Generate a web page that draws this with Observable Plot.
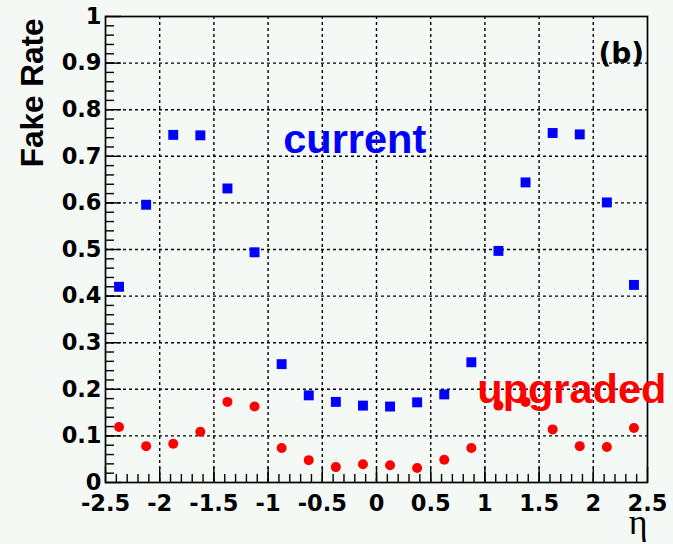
<!DOCTYPE html>
<html><head><meta charset="utf-8">
<script src="https://cdn.jsdelivr.net/npm/d3@7"></script>
<script src="https://cdn.jsdelivr.net/npm/@observablehq/plot@0.6"></script>
<style>
html,body{margin:0;padding:0;background:#f5f9f6;}
#chart svg{display:block;}
</style></head><body><div id="chart"></div>
<script>
// Data
const etaBins = [-2.375,-2.125,-1.875,-1.625,-1.375,-1.125,-0.875,-0.625,-0.375,-0.125,
                 0.125,0.375,0.625,0.875,1.125,1.375,1.625,1.875,2.125,2.375];
const currentRate = [0.420,0.596,0.746,0.745,0.631,0.494,0.254,0.187,0.173,0.165,
                     0.163,0.172,0.189,0.258,0.497,0.644,0.750,0.747,0.601,0.424];
const upgradedRate = [0.119,0.078,0.083,0.109,0.173,0.163,0.074,0.048,0.033,0.039,
                      0.037,0.031,0.049,0.074,0.165,0.173,0.114,0.078,0.076,0.117];
const xTickLabels = [-2.5,-2,-1.5,-1,-0.5,0,0.5,1,1.5,2,2.5];
const yTickLabels = [0,0.1,0.2,0.3,0.4,0.5,0.6,0.7,0.8,0.9,1];
const xMinorTicks = d3.range(-2.4, 2.5, 0.1).map(v => +v.toFixed(2));
const yMinorTicks = d3.range(0.02, 1, 0.02).map(v => +v.toFixed(2));
const annotations = [
  {label: "current", x: -0.86, y: 0.708, color: "#0000ff"},
  {label: "upgraded", x: 0.93, y: 0.170, color: "#ff0000"}
];

const current = etaBins.map((x, i) => ({x, y: currentRate[i]}));
const upgraded = etaBins.map((x, i) => ({x, y: upgradedRate[i]}));
const xGrid = xTickLabels.slice(1, -1);
const yGrid = yTickLabels.slice(1, -1);

const boldSans = "DejaVu Sans";
const chart = Plot.plot({
  width: 673, height: 544,
  marginLeft: 105, marginRight: 26, marginTop: 16, marginBottom: 62,
  style: {background: "#f5f9f6", overflow: "visible"},
  x: {domain: [-2.5, 2.5], axis: null},
  y: {domain: [0, 1], axis: null},
  marks: [
    Plot.ruleX(xGrid, {x: d => d, stroke: "black", strokeWidth: 1.4, strokeDasharray: "3,3"}),
    Plot.ruleY(yGrid, {y: d => d, stroke: "black", strokeWidth: 1.4, strokeDasharray: "3,3"}),
    Plot.ruleX(xMinorTicks, {x: d => d, y1: () => 0, y2: () => 0, insetTop: -8, stroke: "black", strokeWidth: 1.4}),
    Plot.ruleX(xTickLabels, {x: d => d, y1: () => 0, y2: () => 0, insetTop: -15, stroke: "black", strokeWidth: 1.4}),
    Plot.ruleY(yMinorTicks, {y: d => d, x1: () => -2.5, x2: () => -2.5, insetRight: -9, stroke: "black", strokeWidth: 1.4}),
    Plot.ruleY(yTickLabels, {y: d => d, x1: () => -2.5, x2: () => -2.5, insetRight: -16, stroke: "black", strokeWidth: 1.4}),
    Plot.frame({stroke: "black", strokeWidth: 1.7}),
    Plot.dot(upgraded, {x: "x", y: "y", r: 5, fill: "#ff0000", stroke: "none"}),
    Plot.dot(current, {x: "x", y: "y", r: 5.6, symbol: "square", fill: "#0000ff", stroke: "none"}),
    Plot.text(xTickLabels, {x: d => d, y: () => 0, text: d => String(d), dy: 28, lineAnchor: "bottom",
      fontSize: 22.5, fontWeight: "bold", fontFamily: boldSans, fill: "black"}),
    Plot.text(yTickLabels, {x: () => -2.5, y: d => d, text: d => String(d), dx: -4, textAnchor: "end", lineAnchor: "middle",
      fontSize: 22.5, fontWeight: "bold", fontFamily: boldSans, fill: "black"}),
    Plot.text(annotations, {x: "x", y: "y", text: "label", fill: "color", textAnchor: "start", lineAnchor: "bottom",
      fontSize: 41.5, fontWeight: "bold", fontFamily: "Liberation Sans"}),
    Plot.text(["(b)"], {x: () => 2.048, y: () => 0.901, text: d => d, textAnchor: "start", lineAnchor: "bottom",
      fontSize: 28, fontWeight: "bold", fontFamily: boldSans, fill: "black"}),
    Plot.text(["Fake Rate"], {x: () => -3.08, y: () => 0.996, text: d => d, rotate: -90, textAnchor: "end", lineAnchor: "bottom",
      fontSize: 31.5, fontWeight: "bold", fontFamily: "Liberation Sans", fill: "black"}),
    Plot.text(["η"], {x: () => 2.5, y: () => -0.111, text: d => d, textAnchor: "end", lineAnchor: "bottom",
      fontSize: 36, fontFamily: "Liberation Serif", fill: "black"})
  ]
});
document.getElementById("chart").appendChild(chart);
</script></body></html>
